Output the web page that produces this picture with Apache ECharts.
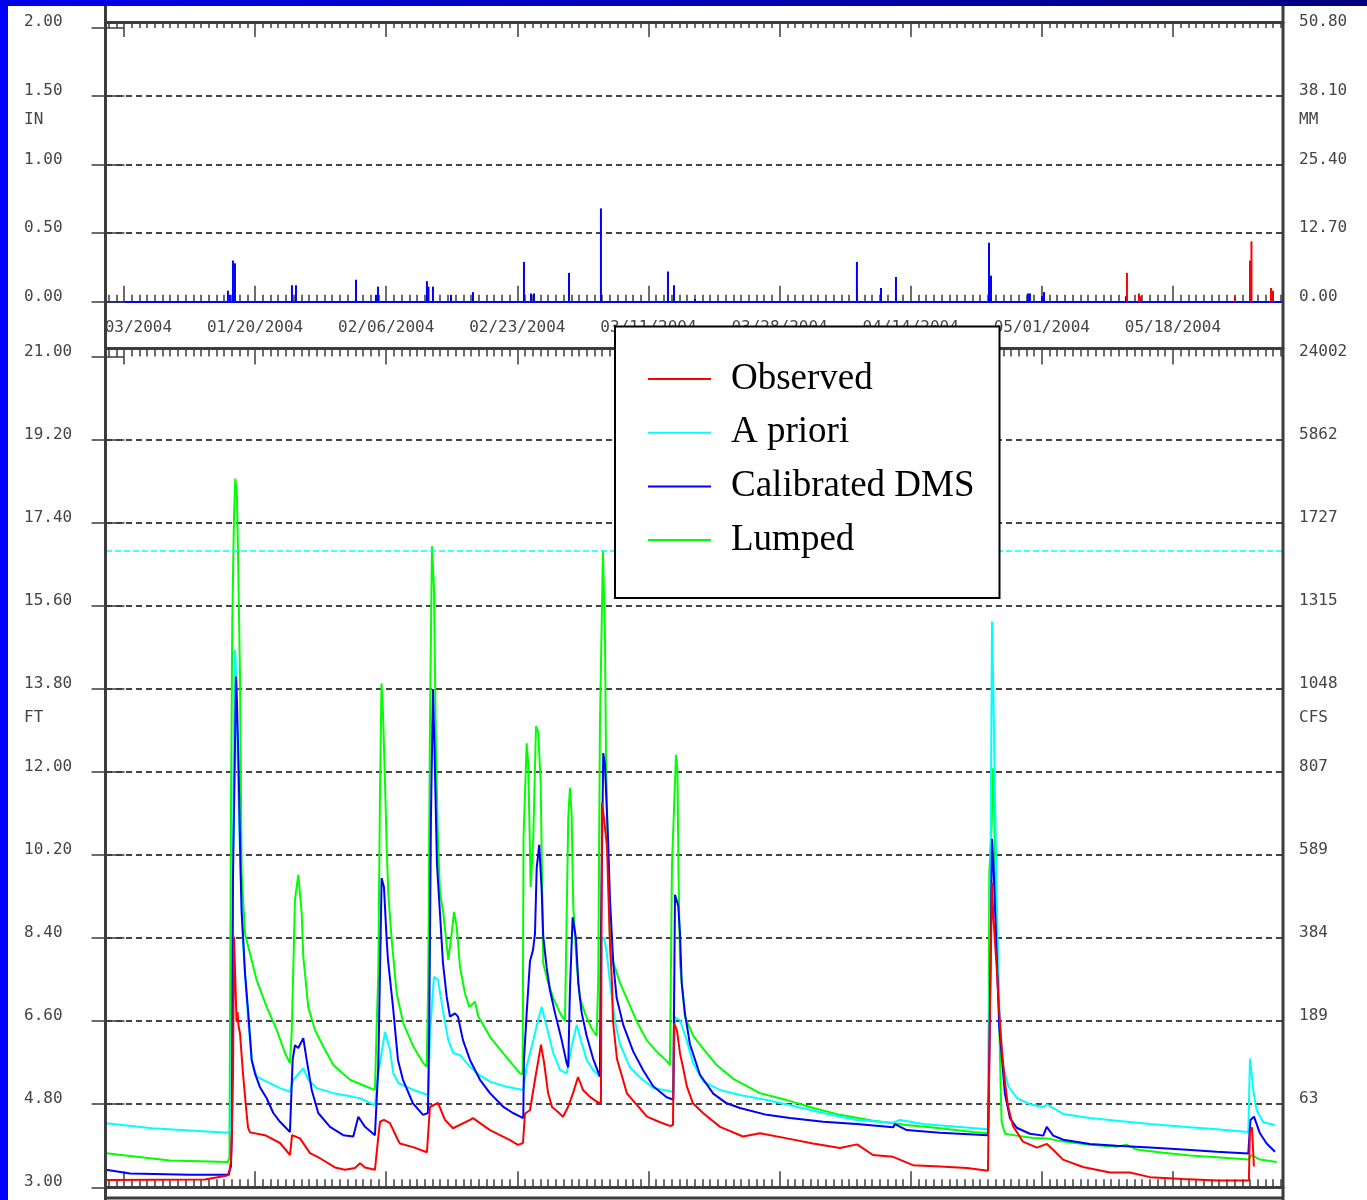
<!DOCTYPE html>
<html><head><meta charset="utf-8">
<script src="https://cdn.jsdelivr.net/npm/echarts@6/dist/echarts.min.js"></script>
<style>html,body{margin:0;padding:0;background:#fff}#c{width:1367px;height:1200px}</style>
</head><body><div id="c"></div><script>
// ---- tick labels ----
const majorDays = [2, 19, 36, 53, 70, 87, 104, 121, 138]; // days since 2004-01-01
const dateLabels = ['01/03/2004','01/20/2004','02/06/2004','02/23/2004','03/11/2004','03/28/2004','04/14/2004','05/01/2004','05/18/2004'];
const ftTicks = [3.00, 4.80, 6.60, 8.40, 10.20, 12.00, 13.80, 15.60, 17.40, 19.20, 21.00];
const cfsLabels = ['', '63', '189', '384', '589', '807', '1048', '1315', '1727', '5862', '24002'];
const floodStage = 16.8;
const seriesNames = ['Observed', 'A priori', 'Calibrated DMS', 'Lumped'];

// ---- precipitation (inches) [day, value] ----
const precipObs = [[15.48,0.08],[15.74,0.05],[16.13,0.30],[16.39,0.28],[23.78,0.12],[24.30,0.12],[32.08,0.16],[34.67,0.05],[34.93,0.11],[41.28,0.15],[41.48,0.11],[42.06,0.11],[44.40,0.05],[47.25,0.07],[53.86,0.29],[54.77,0.06],[55.16,0.06],[59.70,0.21],[63.84,0.68],[72.53,0.22],[73.31,0.12],[76.03,0.02],[97.03,0.29],[100.15,0.10],[102.09,0.18],[114.15,0.43],[114.41,0.19],[119.20,0.06],[119.46,0.06],[121.02,0.04],[121.28,0.07],[131.91,0.04]];
const precipFcst = [[132.04,0.21],[133.60,0.06],[133.86,0.04],[146.04,0.04],[147.99,0.30],[148.18,0.44],[150.71,0.10],[150.97,0.08]];

// ---- stage (FT) [day, value] ----
const observed = [[-0.33,3.16],[12.50,3.17],[15.23,3.25],[15.62,3.27],[15.88,3.6],[16.01,4.28],[16.14,5.5],[16.27,8.43],[16.46,8.4],[16.59,6.6],[16.72,6.8],[16.85,6.5],[17.04,6.34],[17.43,5.47],[17.82,4.74],[18.08,4.3],[18.34,4.19],[20.28,4.13],[22.23,3.96],[23.53,3.70],[23.79,4.13],[24.82,4.06],[26.12,3.74],[27.41,3.63],[29.36,3.43],[30.65,3.38],[31.95,3.42],[32.6,3.52],[33.25,3.43],[34.54,3.38],[34.93,4.02],[35.19,4.42],[35.71,4.46],[36.49,4.39],[37.53,4.02],[37.78,3.95],[39.47,3.87],[41.28,3.76],[41.67,4.74],[42.71,4.83],[43.62,4.46],[44.66,4.28],[46.86,4.46],[47.25,4.5],[49.46,4.24],[52.05,4.02],[53.09,3.92],[53.73,3.96],[53.99,4.6],[54.64,4.67],[55.29,5.33],[56.07,6.09],[56.46,5.71],[56.98,5.05],[57.5,4.74],[58.02,4.67],[58.92,4.53],[59.57,4.74],[60.22,5.04],[60.87,5.39],[61.51,5.11],[62.42,4.96],[63.33,4.85],[63.84,4.83],[63.97,11.33],[64.23,11.0],[64.62,10.4],[65.01,8.27],[65.27,7.43],[65.4,6.6],[65.92,5.78],[67.22,5.03],[68.52,4.78],[69.81,4.53],[71.5,4.41],[72.78,4.33],[73.18,4.35],[73.31,6.55],[73.7,6.4],[74.09,5.9],[74.48,5.6],[74.99,5.18],[75.77,4.82],[77.07,4.61],[79.28,4.31],[82.26,4.1],[84.46,4.17],[87.96,4.06],[91.33,3.95],[94.83,3.85],[97.04,3.93],[99.11,3.7],[101.71,3.66],[104.3,3.48],[107.8,3.45],[111.3,3.42],[114.02,3.36],[114.28,6.8],[114.54,9.6],[114.71,8.88],[115.15,7.76],[115.44,6.9],[115.83,5.96],[116.22,5.28],[116.61,4.76],[117.26,4.33],[118.55,3.99],[120.37,3.86],[121.66,3.94],[122.44,3.82],[123.74,3.6],[126.33,3.44],[129.83,3.32],[132.42,3.32],[135.02,3.22],[139.29,3.18],[143.7,3.15],[147.85,3.15],[147.98,4.2],[148.24,4.3],[148.5,3.45]];
const apriori = [[-0.33,4.39],[5.63,4.28],[15.48,4.18],[15.87,4.3],[16.07,9.0],[16.26,13.0],[16.39,14.65],[16.59,14.0],[16.72,12.5],[16.91,11.0],[17.17,9.5],[17.43,8.3],[17.69,7.64],[18.12,6.56],[18.56,5.76],[19.20,5.4],[20.50,5.29],[22.23,5.15],[23.52,5.07],[23.95,5.33],[25.25,5.58],[25.89,5.33],[26.98,5.15],[29.14,5.04],[31.73,4.96],[32.60,4.93],[34.54,4.78],[34.97,5.47],[35.84,6.37],[36.49,5.98],[36.92,5.47],[37.56,5.26],[39.51,5.11],[41.45,5.0],[41.67,6.3],[42.19,7.56],[42.71,7.5],[43.40,6.78],[44.05,6.19],[44.69,5.91],[45.56,5.87],[46.43,5.69],[47.73,5.47],[49.45,5.29],[51.62,5.18],[53.77,5.11],[54.21,5.61],[55.07,6.19],[55.71,6.63],[56.16,6.91],[56.80,6.48],[57.66,5.91],[58.53,5.54],[59.40,5.47],[60.04,6.05],[60.69,6.52],[61.34,6.13],[61.99,5.76],[62.84,5.54],[63.71,5.4],[63.93,8.43],[64.23,8.4],[64.58,8.1],[65.01,7.43],[65.66,6.6],[66.31,6.1],[67.60,5.6],[68.90,5.38],[70.62,5.15],[73.22,5.07],[73.44,6.69],[74.09,6.62],[74.95,6.19],[75.81,5.69],[77.11,5.29],[79.27,5.11],[81.86,5.0],[85.33,4.89],[88.35,4.78],[92.66,4.61],[96.99,4.46],[101.74,4.4],[102.61,4.46],[105.63,4.37],[109.96,4.31],[114.02,4.26],[114.28,8.0],[114.54,15.26],[114.70,13.89],[114.93,11.45],[115.15,9.3],[115.35,7.85],[115.57,6.47],[116.00,5.62],[116.65,5.19],[117.74,4.94],[119.46,4.8],[121.19,4.74],[121.63,4.8],[123.78,4.59],[127.24,4.5],[130.70,4.44],[135.02,4.37],[139.34,4.31],[143.67,4.26],[147.77,4.2],[147.99,5.79],[148.42,5.1],[148.85,4.67],[149.71,4.41],[151.23,4.35]];
const calibrated = [[-0.33,3.38],[2.78,3.3],[10.56,3.27],[15.48,3.27],[15.87,3.45],[16.00,4.24],[16.13,9.66],[16.39,12.5],[16.52,14.07],[16.65,13.5],[16.85,12.2],[17.10,10.03],[17.26,8.94],[17.47,8.36],[17.69,7.64],[18.12,6.77],[18.56,5.76],[18.98,5.47],[19.63,5.17],[20.50,4.93],[21.36,4.61],[22.23,4.42],[23.52,4.2],[23.87,5.76],[24.17,6.08],[24.60,6.02],[25.25,6.23],[25.69,5.76],[26.34,5.11],[27.19,4.61],[28.71,4.31],[30.43,4.13],[31.73,4.1],[32.38,4.53],[33.25,4.31],[34.54,4.13],[34.97,5.61],[35.41,9.7],[35.71,9.5],[36.06,8.36],[36.23,7.93],[36.88,6.91],[37.52,5.76],[38.17,5.33],[39.47,4.82],[40.77,4.57],[41.41,4.61],[41.58,6.5],[41.80,11.0],[42.06,13.8],[42.26,12.5],[42.58,10.0],[42.97,8.94],[43.36,7.86],[43.84,7.13],[44.27,6.7],[44.91,6.77],[45.30,6.7],[45.95,6.19],[46.86,5.76],[48.16,5.33],[49.45,5.04],[51.14,4.75],[52.43,4.61],[53.77,4.5],[53.86,5.76],[54.21,6.77],[54.64,7.9],[55.03,8.14],[55.29,8.5],[55.51,9.92],[55.84,10.42],[56.16,9.42],[56.36,8.43],[56.80,7.77],[57.23,7.27],[57.88,6.78],[58.75,6.19],[59.40,5.69],[59.60,5.6],[59.82,7.28],[60.17,8.85],[60.60,8.4],[60.90,7.43],[61.34,6.78],[61.99,6.28],[62.84,5.78],[63.71,5.4],[63.84,8.5],[64.14,12.41],[64.36,12.16],[64.58,11.25],[64.79,10.42],[65.01,9.26],[65.44,7.85],[65.88,7.1],[66.73,6.52],[68.03,5.94],[69.33,5.53],[70.62,5.19],[72.36,4.95],[73.22,4.9],[73.44,9.34],[73.86,9.1],[74.09,8.5],[74.31,7.43],[74.73,6.77],[75.38,6.1],[76.68,5.44],[78.40,5.03],[80.14,4.82],[81.86,4.72],[85.33,4.57],[88.35,4.5],[92.66,4.42],[96.99,4.37],[101.74,4.3],[101.96,4.37],[103.48,4.24],[107.79,4.18],[114.02,4.13],[114.21,6.0],[114.54,10.55],[114.73,10.0],[115.06,8.45],[115.48,6.47],[115.79,5.87],[116.22,5.02],[116.87,4.5],[117.74,4.29],[119.46,4.16],[121.19,4.12],[121.63,4.31],[122.48,4.12],[123.78,4.03],[127.24,3.94],[130.70,3.9],[135.02,3.86],[139.34,3.82],[143.67,3.77],[147.77,3.73],[148.05,4.46],[148.51,4.53],[149.28,4.17],[150.15,3.95],[151.23,3.77]];
const lumped = [[-0.33,3.74],[7.96,3.58],[15.48,3.55],[15.68,3.65],[15.74,6.19],[15.87,11.0],[16.04,15.23],[16.26,17.5],[16.43,18.36],[16.65,18.0],[16.82,16.38],[17.04,14.1],[17.26,9.8],[17.69,8.5],[18.12,8.21],[19.20,7.49],[20.50,6.91],[21.80,6.41],[22.87,5.91],[23.52,5.69],[23.74,6.34],[23.95,7.71],[24.17,9.23],[24.60,9.77],[25.04,8.94],[25.25,8.0],[25.89,6.91],[26.76,6.41],[27.84,6.05],[29.14,5.65],[31.30,5.33],[33.47,5.18],[34.54,5.11],[34.76,6.5],[34.97,7.64],[35.19,11.5],[35.39,13.92],[35.58,13.3],[35.84,11.8],[36.06,10.38],[36.27,9.37],[36.71,8.36],[37.36,7.2],[38.21,6.56],[39.51,6.05],[40.81,5.69],[41.25,5.61],[41.45,7.5],[41.67,13.0],[41.93,16.89],[42.19,16.0],[42.45,12.5],[42.71,10.5],[42.97,9.4],[43.40,8.94],[44.05,7.93],[44.49,8.51],[44.79,8.97],[45.14,8.65],[45.56,7.78],[46.21,7.2],[46.77,6.91],[47.51,7.02],[47.94,6.7],[49.45,6.26],[51.18,5.9],[53.34,5.47],[53.69,5.45],[53.80,10.55],[54.21,12.62],[54.42,12.16],[54.73,9.51],[54.94,9.5],[55.07,10.59],[55.42,12.99],[55.71,12.87],[56.03,11.75],[56.36,7.85],[57.01,7.43],[57.66,7.1],[58.53,6.78],[59.18,6.6],[59.60,11.0],[59.82,11.66],[60.04,11.09],[60.25,9.1],[60.69,7.85],[61.12,7.1],[61.77,6.77],[62.64,6.44],[63.29,6.28],[63.49,7.51],[63.71,13.0],[64.10,16.8],[64.36,14.99],[64.49,12.41],[64.79,9.92],[65.01,8.43],[65.23,8.0],[65.66,7.77],[66.31,7.43],[67.17,7.1],[68.47,6.6],[69.77,6.19],[71.07,5.94],[72.36,5.74],[72.79,5.65],[73.05,10.0],[73.57,12.37],[73.76,12.0],[73.89,9.92],[74.09,7.85],[74.73,6.69],[75.81,6.28],[77.11,6.0],[78.84,5.65],[81.00,5.35],[84.46,5.04],[87.92,4.89],[91.37,4.72],[94.83,4.57],[99.15,4.44],[103.48,4.35],[107.79,4.28],[112.11,4.2],[114.06,4.17],[114.19,9.82],[114.50,10.85],[114.63,12.08],[114.83,11.1],[115.02,9.3],[115.28,7.85],[115.48,6.65],[115.66,5.19],[115.79,4.42],[116.22,4.16],[117.74,4.12],[119.89,4.07],[121.63,4.06],[123.78,3.99],[127.24,3.92],[130.70,3.88],[132.00,3.92],[133.30,3.82],[136.75,3.75],[140.21,3.69],[143.67,3.65],[147.77,3.6],[148.21,3.7],[149.28,3.6],[151.45,3.55]];

// ---- styling ----
const FRAME = '#3c3c3c', GRIDC = '#444', TXT = '#444';
const MONO = '"DejaVu Sans Mono", monospace';
const SERIF = '"Liberation Serif", "Times New Roman", serif';
const X_MIN = -0.33, X_MAX = 152.27;
const dailyTicks = [];
for (let d = 0; d <= 152; d++) dailyTicks.push(d);

function xAx(grid, pos, offset, ticks, len, line, label) {
  return {
    type: 'value', gridIndex: grid, position: pos, offset: offset, min: X_MIN, max: X_MAX,
    axisLine: line ? { show: true, onZero: false, lineStyle: line } : { show: false, onZero: false },
    axisTick: { show: true, inside: true, length: len, customValues: ticks, lineStyle: { color: FRAME, width: 1.5 } },
    axisLabel: label || { show: false },
    splitLine: { show: false }
  };
}
const yLabel = (extra) => Object.assign({
  fontFamily: MONO, fontSize: 16, color: TXT, align: 'left', verticalAlign: 'bottom', lineHeight: 10
}, extra);
const dash = { type: [6, 4], color: GRIDC, width: 2 };

const lineSeries = (name, data, color, extra) => Object.assign({
  name, type: 'line', xAxisIndex: 4, yAxisIndex: 2, data,
  symbol: 'none', showSymbol: false, silent: true,
  lineStyle: { color, width: 2 }, itemStyle: { color }
}, extra);

const option = {
  animation: false,
  backgroundColor: '#ffffff',
  grid: [
    { left: 106, top: 27.3, width: 1177, height: 274.4, containLabel: false, outerBoundsMode: 'none' },
    { left: 106, top: 356.7, width: 1177, height: 830.6, containLabel: false, outerBoundsMode: 'none' }
  ],
  xAxis: [
    xAx(0, 'bottom', 0, majorDays, 16, { color: '#0000ff', width: 2 }, {
      show: true, customValues: majorDays, margin: 18,
      formatter: v => dateLabels[majorDays.indexOf(v)],
      fontFamily: MONO, fontSize: 16, color: TXT
    }),
    xAx(0, 'bottom', 0, dailyTicks, 7, null),
    xAx(0, 'top', 5.3, majorDays, 15, { color: FRAME, width: 3 }),
    xAx(0, 'top', 5.3, dailyTicks, 6, null),
    xAx(1, 'bottom', 0, majorDays, 16, { color: FRAME, width: 3 }),
    xAx(1, 'bottom', 0, dailyTicks, 8, null),
    xAx(1, 'top', 8.2, majorDays, 16, { color: FRAME, width: 3 }),
    xAx(1, 'top', 8.2, dailyTicks, 8, null)
  ],
  yAxis: [
    { type: 'value', gridIndex: 0, position: 'left', min: 0, max: 2, interval: 0.5,
      axisLine: { show: false }, axisTick: { show: true, length: 17, lineStyle: { color: FRAME, width: 1.5 } },
      axisLabel: yLabel({ margin: 82, formatter: v => v.toFixed(2) }),
      splitLine: { show: true, showMinLine: false, showMaxLine: false, lineStyle: dash } },
    { type: 'value', gridIndex: 0, position: 'right', min: 0, max: 50.8, interval: 12.7,
      axisLine: { show: false }, axisTick: { show: true, length: 16, lineStyle: { color: FRAME, width: 1.5 } },
      axisLabel: yLabel({ margin: 16, formatter: v => v.toFixed(2) }),
      splitLine: { show: false } },
    { type: 'value', gridIndex: 1, position: 'left', min: 3, max: 21,
      axisLine: { show: false },
      axisTick: { show: true, length: 17, customValues: ftTicks, lineStyle: { color: FRAME, width: 1.5 } },
      axisLabel: yLabel({ margin: 82, customValues: ftTicks, formatter: v => v.toFixed(2) }),
      splitLine: { show: true, customValues: ftTicks, showMinLine: false, showMaxLine: false, lineStyle: dash } },
    { type: 'value', gridIndex: 1, position: 'right', min: 3, max: 21,
      axisLine: { show: false },
      axisTick: { show: true, length: 16, customValues: ftTicks, lineStyle: { color: FRAME, width: 1.5 } },
      axisLabel: yLabel({ margin: 16, customValues: ftTicks, formatter: v => cfsLabels[ftTicks.indexOf(v)] }),
      splitLine: { show: false } }
  ],
  legend: {
    data: seriesNames, orient: 'vertical', left: 648, top: 359, padding: 0,
    itemGap: 13.7, itemWidth: 63, itemHeight: 2, icon: 'rect', z: 20, selectedMode: false,
    textStyle: { fontFamily: SERIF, fontSize: 37, color: '#000', lineHeight: 40, padding: [0, 0, 0, 15] }
  },
  graphic: [
    { type: 'rect', z: 30, shape: { x: 0, y: 0, width: 8, height: 1200 }, style: { fill: '#0000ff' } },
    { type: 'rect', z: 30, shape: { x: 0, y: 0, width: 1367, height: 6 },
      style: { fill: new echarts.graphic.LinearGradient(0, 0, 1, 0, [
        { offset: 0, color: '#0000ee' }, { offset: 0.5, color: '#0000b8' }, { offset: 1, color: '#000080' }]) } },
    { type: 'line', z: 15, shape: { x1: 105.5, y1: 6, x2: 105.5, y2: 1200 }, style: { stroke: FRAME, lineWidth: 3 } },
    { type: 'line', z: 15, shape: { x1: 1283, y1: 6, x2: 1283, y2: 1200 }, style: { stroke: FRAME, lineWidth: 3 } },
    { type: 'line', z: 15, shape: { x1: 105, y1: 1198, x2: 1283, y2: 1198 }, style: { stroke: FRAME, lineWidth: 3 } },
    { type: 'rect', z: 12, shape: { x: 60, y: 312, width: 44, height: 28 }, style: { fill: '#ffffff' } },
    { type: 'rect', z: 12, shape: { x: 615, y: 326.5, width: 384.5, height: 271.5 },
      style: { fill: '#ffffff', stroke: '#000', lineWidth: 2 } },
    { type: 'text', z: 15, style: { text: 'IN', x: 24, y: 120, fontFamily: MONO, fontSize: 16, fill: TXT, verticalAlign: 'middle' } },
    { type: 'text', z: 15, style: { text: 'MM', x: 1299, y: 120, fontFamily: MONO, fontSize: 16, fill: TXT, verticalAlign: 'middle' } },
    { type: 'text', z: 15, style: { text: 'FT', x: 24, y: 718, fontFamily: MONO, fontSize: 16, fill: TXT, verticalAlign: 'middle' } },
    { type: 'text', z: 15, style: { text: 'CFS', x: 1299, y: 718, fontFamily: MONO, fontSize: 16, fill: TXT, verticalAlign: 'middle' } }
  ],
  series: [
    { name: 'MAP', type: 'bar', xAxisIndex: 0, yAxisIndex: 0, data: precipObs, barWidth: 2, barGap: '-100%',
      itemStyle: { color: '#0000ff' }, silent: true },
    { name: 'QPF', type: 'bar', xAxisIndex: 0, yAxisIndex: 0, data: precipFcst, barWidth: 2, barGap: '-100%',
      itemStyle: { color: '#ff0000' }, silent: true },
    lineSeries('Lumped', lumped, '#00ff00'),
    lineSeries('A priori', apriori, '#00ffff', {
      markLine: { silent: true, symbol: 'none', label: { show: false },
        lineStyle: { color: '#00ffff', type: [6, 3], width: 1.5 }, data: [{ yAxis: floodStage }] }
    }),
    lineSeries('Calibrated DMS', calibrated, '#0000ff'),
    lineSeries('Observed', observed, '#ff0000')
  ]
};
const chart = echarts.init(document.getElementById('c'), null, { renderer: 'canvas' });
chart.setOption(option);
</script></body></html>
